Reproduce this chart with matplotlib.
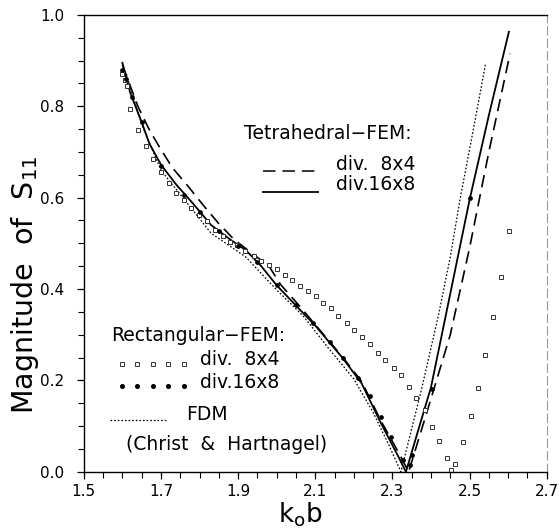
import matplotlib
matplotlib.use("Agg")
import matplotlib.pyplot as plt
import numpy as np

plt.rcParams['font.family'] = ['DejaVu Sans']
plt.rcParams['mathtext.default'] = 'regular'
plt.rcParams['lines.scale_dashes'] = False

# ---------------- data ----------------
# Tetrahedral-FEM, div. 16x8 (solid)
tet16_x = [1.600, 1.620, 1.650, 1.670, 1.700, 1.740, 1.780, 1.830, 1.880, 1.920,
           1.960, 2.000, 2.060, 2.100, 2.170, 2.220, 2.270, 2.315, 2.335,
           2.370, 2.400, 2.450, 2.500, 2.550, 2.602]
tet16_y = [0.895, 0.830, 0.765, 0.718, 0.672, 0.628, 0.590, 0.540, 0.508, 0.485,
           0.450, 0.408, 0.355, 0.320, 0.250, 0.194, 0.107, 0.034, 0.000,
           0.100, 0.185, 0.390, 0.595, 0.780, 0.963]

# Tetrahedral-FEM, div. 8x4 (dashed)
tet8_x = [1.600, 1.640, 1.670, 1.700, 1.730, 1.770, 1.810, 1.850, 1.890, 1.930,
          1.980, 2.010, 2.060, 2.100, 2.170, 2.220, 2.270, 2.320, 2.342,
          2.400, 2.450, 2.500, 2.550, 2.605]
tet8_y = [0.890, 0.800, 0.748, 0.705, 0.665, 0.625, 0.583, 0.543, 0.508, 0.482,
          0.450, 0.410, 0.362, 0.322, 0.252, 0.198, 0.112, 0.036, 0.000,
          0.160, 0.300, 0.490, 0.700, 0.915]

# FDM (Christ & Hartnagel) (dotted)
fdm_x = [1.610, 1.650, 1.700, 1.750, 1.830, 1.920, 2.000, 2.070, 2.130, 2.200,
         2.250, 2.290, 2.322, 2.375, 2.420, 2.450, 2.475, 2.510, 2.541]
fdm_y = [0.870, 0.760, 0.660, 0.607, 0.522, 0.470, 0.398, 0.340, 0.275, 0.203,
         0.130, 0.060, 0.000, 0.179, 0.345, 0.470, 0.595, 0.750, 0.891]

# Rectangular-FEM, div. 8x4 (open squares)
rect8_x = [1.600, 1.607, 1.613, 1.620, 1.640, 1.660, 1.680, 1.700, 1.720, 1.740,
           1.760, 1.778, 1.798, 1.820, 1.840, 1.860, 1.880, 1.898, 1.918, 1.940,
           1.960, 1.980, 2.000, 2.021, 2.039, 2.060, 2.082, 2.103, 2.121, 2.142,
           2.159, 2.181, 2.200, 2.220, 2.241, 2.262, 2.282, 2.304, 2.323, 2.342,
           2.362, 2.384, 2.402, 2.422, 2.442, 2.452, 2.461, 2.483, 2.503, 2.521,
           2.541, 2.560, 2.582, 2.601]
rect8_y = [0.870, 0.858, 0.845, 0.795, 0.748, 0.712, 0.684, 0.655, 0.632, 0.610,
           0.595, 0.577, 0.562, 0.548, 0.530, 0.515, 0.504, 0.497, 0.483, 0.472,
           0.462, 0.453, 0.443, 0.431, 0.420, 0.407, 0.395, 0.384, 0.370, 0.358,
           0.341, 0.325, 0.311, 0.296, 0.279, 0.261, 0.244, 0.227, 0.211, 0.185,
           0.161, 0.135, 0.098, 0.067, 0.030, 0.004, 0.018, 0.066, 0.123, 0.183,
           0.256, 0.338, 0.427, 0.527]

# Rectangular-FEM, div. 16x8 (filled dots)
rect16_x = [1.600, 1.610, 1.625, 1.650, 1.700, 1.760, 1.800, 1.850, 1.900, 1.950,
            2.000, 2.050, 2.095, 2.138, 2.172, 2.211, 2.241, 2.271, 2.297, 2.328,
            2.345, 2.351, 2.403, 2.502]
rect16_y = [0.880, 0.860, 0.820, 0.765, 0.670, 0.605, 0.568, 0.528, 0.495, 0.460,
            0.408, 0.365, 0.325, 0.285, 0.249, 0.205, 0.165, 0.121, 0.077, 0.026,
            0.015, 0.037, 0.181, 0.599]

x_ticks = [1.5, 1.7, 1.9, 2.1, 2.3, 2.5, 2.7]
y_ticks = [0.0, 0.2, 0.4, 0.6, 0.8, 1.0]

# ---------------- figure ----------------
fig = plt.figure(figsize=(5.59, 5.29), dpi=100)
ax = fig.add_axes([0.150, 0.108, 0.828, 0.864])

ax.plot(tet16_x, tet16_y, color='black', lw=1.3, ls='-')
ax.plot(tet8_x, tet8_y, color='black', lw=1.2, ls=(0, (9, 5)))
ax.plot(fdm_x, fdm_y, color='black', lw=0.9, ls=(0, (1.2, 1.4)))
ax.plot(rect8_x, rect8_y, ls='none', marker='s', ms=2.8, mfc='white',
        mec='#333333', mew=0.7)
ax.plot(rect16_x, rect16_y, ls='none', marker='o', ms=2.4, color='black')

ax.set_xlim(1.5, 2.7)
ax.set_ylim(0.0, 1.0)
ax.set_xticks(x_ticks)
ax.set_xticklabels([f"{v:.1f}" for v in x_ticks])
ax.set_yticks(y_ticks)
ax.set_yticklabels([f"{v:.1f}" for v in y_ticks])
ax.set_xticks(np.arange(1.5, 2.7001, 0.05), minor=True)
ax.set_yticks(np.arange(0.0, 1.0001, 0.05), minor=True)
ax.tick_params(which='major', direction='out', length=5, width=0.9,
               labelsize=11, top=False, right=False)
ax.tick_params(which='minor', direction='out', length=4, width=0.8,
               top=False, right=False)
ax.tick_params(axis='x', which='major', pad=4)
ax.tick_params(axis='y', which='major', pad=9)

for s in ['left', 'bottom', 'top']:
    ax.spines[s].set_linewidth(1.0)
ax.spines['right'].set_color('#999999')
ax.spines['right'].set_linewidth(0.8)
ax.spines['right'].set_linestyle((0, (6, 3)))

# axis labels
fig.text(0.045, 0.462, 'Magnitude  of  S$_{11}$', rotation=90, fontsize=20.5,
         ha='center', va='center')
fig.text(0.537, 0.026, 'k$_o$b', fontsize=19, ha='center', va='center')

# legend block 1 (Tetrahedral-FEM)
tr = ax.transAxes
fs = 13.5
ax.text(0.345, 0.740, 'Tetrahedral\u2212FEM:', transform=tr, fontsize=fs,
        ha='left', va='center')
ax.plot([0.388, 0.506], [0.658, 0.658], transform=tr, color='black', lw=1.1,
        ls=(0, (9, 5)))
ax.text(0.545, 0.672, 'div.  8x4', transform=tr, fontsize=fs, ha='left',
        va='center')
ax.plot([0.388, 0.506], [0.612, 0.612], transform=tr, color='black', lw=1.3)
ax.text(0.545, 0.628, 'div.16x8', transform=tr, fontsize=fs, ha='left',
        va='center')

# legend block 2 (Rectangular-FEM)
ax.text(0.060, 0.298, 'Rectangular\u2212FEM:', transform=tr, fontsize=fs,
        ha='left', va='center')
ax.plot(np.linspace(0.082, 0.216, 5), [0.236] * 5, transform=tr, ls='none',
        marker='s', ms=2.8, mfc='white', mec='#333333', mew=0.7)
ax.text(0.252, 0.245, 'div.  8x4', transform=tr, fontsize=fs, ha='left',
        va='center')
ax.plot(np.linspace(0.082, 0.216, 5), [0.187] * 5, transform=tr, ls='none',
        marker='o', ms=2.6, color='black')
ax.text(0.252, 0.195, 'div.16x8', transform=tr, fontsize=fs, ha='left',
        va='center')
ax.plot([0.056, 0.179], [0.114, 0.114], transform=tr, color='black', lw=0.9,
        ls=(0, (1.2, 1.4)))
ax.text(0.222, 0.125, 'FDM', transform=tr, fontsize=fs, ha='left',
        va='center')
ax.text(0.090, 0.059, '(Christ  &  Hartnagel)', transform=tr, fontsize=fs,
        ha='left', va='center')

fig.savefig('out.png', dpi=100)
